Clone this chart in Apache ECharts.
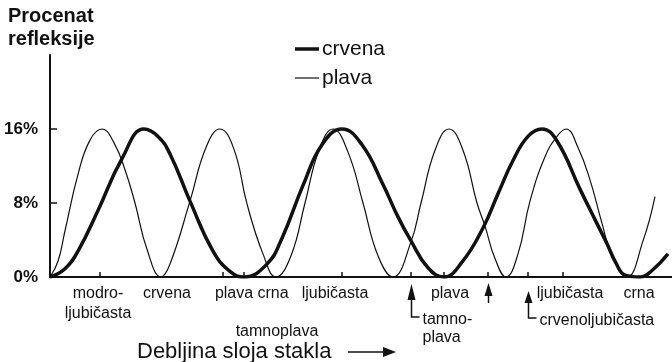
<!DOCTYPE html>
<html lang="sr">
<head>
<meta charset="UTF-8">
<title>Procenat refleksije</title>
<script src="https://cdn.jsdelivr.net/npm/echarts@6/dist/echarts.min.js"></script>
<style>
  html, body { margin: 0; padding: 0; background: #fff; }
  #chart { width: 672px; height: 362px; }
</style>
</head>
<body>
<div id="chart"></div>
<script>
  // debljina sloja (proizvoljne jedinice) i procenat refleksije
  const seriesNames = ['crvena', 'plava'];
  const crvenaX = [0, 15, 28, 48, 72, 94, 108, 120, 140, 163, 180, 194, 217, 232, 253, 272, 292, 312, 333, 348, 361, 378, 394, 412, 433, 448, 463, 478, 492, 507, 530, 545, 557, 566, 575, 590, 602, 618];
  const crvenaY = [0, 0.9, 2.8, 7.2, 12.8, 16, 15.2, 13.3, 8.2, 2.8, 0.6, 0, 1.4, 4.2, 9.9, 14.3, 16, 14.3, 10, 6.5, 3.9, 1, 0, 1.6, 5.3, 9, 12.6, 15.2, 16, 14.7, 9.5, 6.2, 3.6, 1.5, 0.2, 0, 0.7, 2.5];
  const plavaX = [0, 8, 15, 28, 40, 52, 64, 75, 85, 97, 111, 120, 140, 156, 170, 184, 197, 213, 226, 241, 255, 269, 283, 298, 313, 328, 343, 361, 371, 385, 399, 413, 427, 435, 445, 456, 468, 480, 495, 507, 516, 528, 540, 552, 562, 577, 593, 605];
  const plavaY = [0, 1.7, 5.0, 11.1, 14.8, 16, 14.5, 11.6, 8, 3, 0, 1.4, 8.2, 14, 16, 13.8, 7.9, 2.5, 0, 2.3, 8, 13.7, 16, 13.5, 8, 2.3, 0, 3.8, 8, 13.7, 16, 13.7, 8, 5.5, 2, 0, 2.5, 8.2, 13, 15.2, 16, 14, 10.5, 5.8, 2.3, 0, 3.9, 8.7];

  const yTicks = [8, 16];
  const yLabels = [0, 8, 16];
  const xTicks = [50, 173, 194, 292, 361, 394, 438, 478, 513];

  // boje ispod ose
  const colorNames = ['modro-\nljubičasta', 'crvena', 'plava', 'crna', 'ljubičasta', 'plava', 'ljubičasta', 'crna'];
  const colorPos = [48, 117, 184, 223, 285, 400, 520, 589];
  const lowerNames = ['tamnoplava'];
  const lowerPos = [227];
  const arrowNames = ['tamno-\nplava', '', 'crvenoljubičasta'];
  const arrowPos = [361, 438, 478];

  const font = "'Liberation Sans', Arial, sans-serif";
  const ink = '#111';
  const lineWidths = [3.5, 1.2];
  const zip = (xs, ys) => xs.map((x, i) => [x, ys[i]]);

  const chart = echarts.init(document.getElementById('chart'));
  chart.setOption({
    animation: false,
    backgroundColor: '#fff',
    textStyle: { fontFamily: font, color: ink },
    grid: { left: 50, right: 0, top: 55, bottom: 85 },
    xAxis: {
      type: 'value',
      min: 0,
      max: 622,
      axisLine: { lineStyle: { color: ink, width: 2 } },
      axisTick: { show: true, inside: true, length: 5, customValues: xTicks, lineStyle: { color: ink, width: 1.5 } },
      axisLabel: { show: false },
      splitLine: { show: false }
    },
    yAxis: {
      type: 'value',
      min: 0,
      max: 24,
      axisLine: { show: true, lineStyle: { color: ink, width: 2 } },
      axisTick: { show: true, inside: true, length: 7, customValues: yTicks, lineStyle: { color: ink, width: 1.5 } },
      axisLabel: {
        customValues: yLabels,
        formatter: '{value}%',
        fontSize: 17,
        fontWeight: 'bold',
        color: ink,
        margin: 12,
        padding: [10, 0, 0, 0]
      },
      splitLine: { show: false }
    },
    series: [
      {
        name: seriesNames[0],
        type: 'line',
        data: zip(crvenaX, crvenaY),
        smooth: 0.45,
        symbol: 'none',
        lineStyle: { color: ink, width: lineWidths[0] }
      },
      {
        name: seriesNames[1],
        type: 'line',
        data: zip(plavaX, plavaY),
        smooth: 0.45,
        symbol: 'none',
        lineStyle: { color: ink, width: lineWidths[1] }
      }
    ]
  });

  // tekstovi i strelice ispod ose, pozicije preko skale x ose
  const px = v => chart.convertToPixel({ xAxisIndex: 0 }, v);
  const labelStyle = { fill: ink, font: '16px ' + font, lineHeight: 20 };
  const graphics = [];

  graphics.push({
    type: 'text', left: 8, top: 5,
    style: { text: 'Procenat\nrefleksije', fill: ink, font: 'bold 20px ' + font, lineHeight: 23 }
  });

  // legenda
  seriesNames.forEach((name, i) => {
    const y = 49 + i * 29;
    graphics.push({
      type: 'line',
      shape: { x1: 295, y1: y, x2: 319, y2: y },
      style: { stroke: ink, lineWidth: lineWidths[i] }
    });
    graphics.push({
      type: 'text', x: 322, y: y,
      style: { text: name, fill: ink, font: '21px ' + font, verticalAlign: 'middle' }
    });
  });

  colorNames.forEach((name, i) => {
    graphics.push({
      type: 'text', x: px(colorPos[i]), y: 284,
      style: Object.assign({ text: name, align: 'center', verticalAlign: 'top' }, labelStyle)
    });
  });
  lowerNames.forEach((name, i) => {
    graphics.push({
      type: 'text', x: px(lowerPos[i]), y: 322,
      style: Object.assign({ text: name, align: 'center', verticalAlign: 'top' }, labelStyle)
    });
  });

  // strelice: vrh, osnova glave, kraj drške
  const arrowShapes = [[284, 300, 317], [283, 296, 303], [291, 303, 318]];
  arrowPos.forEach((pos, i) => {
    const x = Math.round(px(pos)) + 0.5;
    const [tip, base, end] = arrowShapes[i];
    graphics.push({
      type: 'polygon',
      shape: { points: [[x, tip], [x - 4, base], [x + 4, base]] },
      style: { fill: ink }
    });
    const pts = [[x, base], [x, end]];
    if (arrowNames[i]) pts.push([x + 8, end]);
    graphics.push({
      type: 'polyline',
      shape: { points: pts },
      style: { stroke: ink, lineWidth: 1.5, fill: null }
    });
    if (arrowNames[i]) {
      graphics.push({
        type: 'text', x: x + 11, y: end - 6,
        style: Object.assign({ text: arrowNames[i], align: 'left', verticalAlign: 'top' }, labelStyle, { lineHeight: 18 })
      });
    }
  });

  // naziv x ose sa strelicom
  graphics.push({
    type: 'text', left: 137, top: 341,
    style: { text: 'Debljina sloja stakla', fill: ink, font: '22px ' + font }
  });
  graphics.push({
    type: 'line',
    shape: { x1: 348, y1: 352, x2: 386, y2: 352 },
    style: { stroke: ink, lineWidth: 1.5 }
  });
  graphics.push({
    type: 'polygon',
    shape: { points: [[396, 352], [383, 347], [383, 357]] },
    style: { fill: ink }
  });

  chart.setOption({ graphic: graphics });
</script>
</body>
</html>
